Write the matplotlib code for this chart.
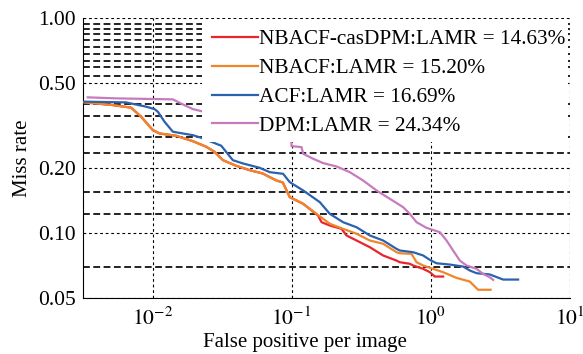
import matplotlib
matplotlib.use("Agg")
import matplotlib.pyplot as plt
from matplotlib.patches import Rectangle

plt.rcParams['font.family'] = ['Liberation Serif', 'DejaVu Serif']
plt.rcParams['mathtext.fontset'] = 'stix'

# miss rate vs false positives per image
red_x = [0.00324, 0.00518, 0.00701, 0.00828, 0.01005, 0.01123, 0.01479, 0.0195, 0.0243,
         0.0279, 0.0321, 0.0399, 0.0499, 0.0622, 0.0698, 0.078, 0.0866, 0.0972, 0.1212,
         0.1553, 0.1644, 0.1886, 0.2289, 0.2487, 0.2935, 0.3659, 0.456, 0.5692, 0.6014,
         0.7097, 0.7497, 0.885, 0.9885, 1.074, 1.232]
red_y = [0.4054, 0.3938, 0.3831, 0.3478, 0.3013, 0.2907, 0.2836, 0.2677, 0.2523,
         0.2391, 0.2185, 0.2058, 0.1963, 0.1894, 0.1821, 0.1758, 0.1720, 0.1470, 0.1370,
         0.1208, 0.1125, 0.1086, 0.1048, 0.0976, 0.0925, 0.0861, 0.0788, 0.0746, 0.0733,
         0.0721, 0.0708, 0.0683, 0.0659, 0.0629, 0.0629]

orange_x = [0.00324, 0.00518, 0.00701, 0.00828, 0.01005, 0.01123, 0.01479, 0.0195, 0.0243,
            0.0279, 0.0321, 0.0399, 0.0499, 0.0622, 0.0698, 0.078, 0.0866, 0.0972, 0.1212,
            0.1513, 0.1886, 0.2350, 0.2935, 0.3659, 0.456, 0.5692, 0.6014, 0.7300, 0.7932,
            0.885, 1.044, 1.232, 1.538, 1.917, 2.200, 2.702]
orange_y = [0.4054, 0.3938, 0.3831, 0.3478, 0.3013, 0.2907, 0.2836, 0.2677, 0.2523,
            0.2391, 0.2185, 0.2058, 0.1963, 0.1894, 0.1821, 0.1758, 0.1720, 0.1470, 0.1370,
            0.1230, 0.1106, 0.1048, 0.0994, 0.0925, 0.0893, 0.0816, 0.0807, 0.0802, 0.0733,
            0.0708, 0.0683, 0.0659, 0.0620, 0.0596, 0.0546, 0.0546]

blue_x = [0.00324, 0.00643, 0.00899, 0.01034, 0.01092, 0.0122, 0.0140, 0.01652, 0.0195,
          0.02237, 0.0312, 0.0338, 0.0378, 0.0446, 0.0589, 0.0698, 0.0870, 0.0972, 0.1212,
          0.1598, 0.1886, 0.2350, 0.2935, 0.3659, 0.456, 0.5692, 0.6014, 0.7497, 0.885,
          0.9885, 1.105, 1.377, 1.716, 1.917, 2.143, 2.671, 3.330, 4.267]
blue_y = [0.4085, 0.4054, 0.3872, 0.3773, 0.3668, 0.3296, 0.2962, 0.2907, 0.2854,
          0.2776, 0.2550, 0.2391, 0.2185, 0.2110, 0.2014, 0.1921, 0.1888, 0.1726, 0.1580,
          0.1394, 0.1230, 0.1125, 0.1066, 0.0976, 0.0925, 0.0846, 0.0831, 0.0816, 0.0788,
          0.0752, 0.0725, 0.0715, 0.0700, 0.0671, 0.0652, 0.0643, 0.0609, 0.0609]

pink_x = [0.00342, 0.00545, 0.0140, 0.01652, 0.0195, 0.0224, 0.0995, 0.1, 0.118, 0.1212,
          0.143, 0.1688, 0.2107, 0.2627, 0.3273, 0.4088, 0.5095, 0.6354, 0.7097, 0.7932,
          0.936, 1.167, 1.303, 1.454, 1.625, 1.815, 2.143, 2.390, 2.671, 2.821]
pink_y = [0.4278, 0.4232, 0.4187, 0.3968, 0.3773, 0.3691, 0.275, 0.2539, 0.2512, 0.2340,
          0.2218, 0.2117, 0.2042, 0.1921, 0.1758, 0.1580, 0.1445, 0.1321, 0.1230, 0.1125,
          0.1059, 0.1011, 0.0925, 0.0831, 0.0746, 0.0708, 0.0683, 0.0647, 0.0624, 0.0607]

labels = ['NBACF-casDPM:LAMR = 14.63%', 'NBACF:LAMR = 15.20%',
          'ACF:LAMR = 16.69%', 'DPM:LAMR = 24.34%']
colors = ['#e8242c', '#f0862a', '#2b62b0', '#c77bbd']

yticks = [0.05, 0.1, 0.2, 0.5, 1.0]
ytick_labels = ['0.05', '0.10', '0.20', '0.50', '1.00']
xticks = [1e-2, 1e-1, 1, 10]
xtick_labels = [r'$10^{-2}$', r'$10^{-1}$', r'$10^{0}$', r'$10^{1}$']
# extra dashed reference levels
dash_levels = [0.94, 0.89, 0.845, 0.787, 0.737, 0.68, 0.634, 0.59, 0.54,
               0.4, 0.35, 0.28, 0.235, 0.155, 0.123, 0.07]

fig = plt.figure(figsize=(5.83, 3.54), dpi=100)
ax = fig.add_axes([0.1424, 0.1582, 0.8345, 0.791])
ax.set_xscale('log')
ax.set_yscale('log')

series = [(red_x, red_y), (orange_x, orange_y), (blue_x, blue_y), (pink_x, pink_y)]
for (xs, ys), c, lab in zip(series, colors, labels):
    ax.plot(xs, ys, color=c, lw=1.6, label=lab, zorder=3)

for lv in dash_levels:
    ax.axhline(lv, color='#222222', lw=1.4, ls=(0, (3.5, 1.8)), zorder=1)

ax.set_xlim(10 ** -2.5, 10)
ax.set_ylim(0.05, 1.0)
ax.set_yticks(yticks)
ax.set_yticklabels(ytick_labels)
ax.set_xticks(xticks)
ax.set_xticklabels(xtick_labels)
ax.minorticks_off()
ax.tick_params(length=0, labelsize=15.5)
ax.tick_params(axis='x', pad=7)
ax.tick_params(axis='y', pad=5)
ax.grid(True, which='major', color='black', lw=0.8, ls=(0, (2.5, 2.5)), zorder=1)
ax.set_axisbelow(True)
for s in ['top', 'right']:
    ax.spines[s].set_visible(False)

ax.set_xlabel('False positive per image', fontsize=15)
ax.xaxis.set_label_coords(0.456, -0.126)
ax.set_ylabel('Miss rate', fontsize=15)
ax.yaxis.set_label_coords(-0.105, 0.5)

# white block behind the legend
ax.add_patch(Rectangle((0.2446, 0.558), 0.7524, 0.438, transform=ax.transAxes,
                       facecolor='white', edgecolor='none', zorder=4))
leg = ax.legend(loc='upper left', bbox_to_anchor=(0.2652, 0.959), fontsize=15.3,
                frameon=False, borderaxespad=0, borderpad=0, handlelength=2.16,
                handletextpad=0.05, labelspacing=0.42)
leg.set_zorder(5)

fig.savefig('out.png', dpi=100)
